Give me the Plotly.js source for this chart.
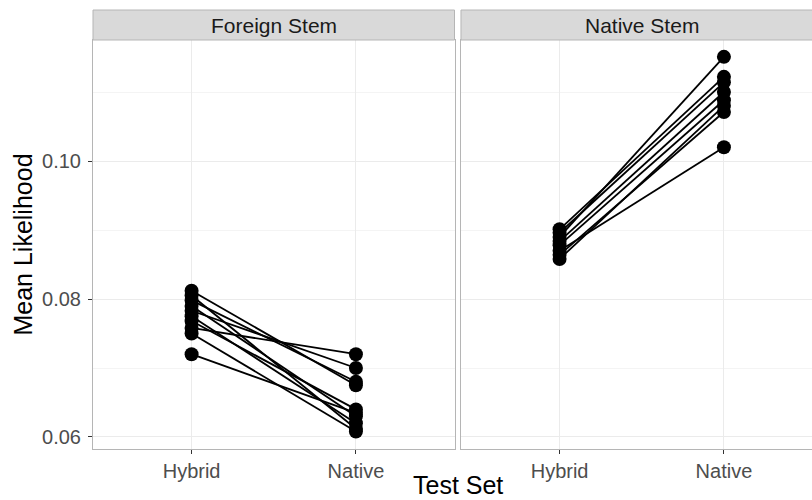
<!DOCTYPE html>
<html>
<head>
<meta charset="utf-8">
<script src="https://cdn.plot.ly/plotly-3.0.1.min.js"></script>
<style>html,body{margin:0;padding:0;background:#fff;}#chart{width:812px;height:500px;}</style>
</head>
<body>
<div id="chart"></div>
<script>
const testSets = ['Hybrid', 'Native'];
const panelTitles = ['Foreign Stem', 'Native Stem'];
const foreignHybrid = [0.0812, 0.0805, 0.0798, 0.0790, 0.0783, 0.0775, 0.0768, 0.0758, 0.0750, 0.0720];
const foreignNative = [0.0675, 0.0612, 0.0680, 0.0630, 0.0700, 0.0620, 0.0640, 0.0720, 0.0608, 0.0635];
const nativeHybrid = [0.0901, 0.0896, 0.0890, 0.0884, 0.0878, 0.0870, 0.0864, 0.0858];
const nativeNative = [0.1122, 0.1114, 0.1151, 0.1100, 0.1088, 0.1020, 0.1071, 0.1080];
const yTicks = [0.06, 0.08, 0.10];
const yTickText = ['0.06', '0.08', '0.10'];

const FONT = 'Liberation Sans, Arial, sans-serif';
const traces = [];
function addPanel(hy, na, xa, ya) {
  for (let i = 0; i < hy.length; i++) {
    traces.push({
      type: 'scatter', mode: 'lines+markers',
      x: testSets, y: [hy[i], na[i]],
      xaxis: xa, yaxis: ya,
      line: {color: '#000', width: 1.8},
      marker: {color: '#000', size: 14},
      showlegend: false, hoverinfo: 'skip'
    });
  }
}
addPanel(foreignHybrid, foreignNative, 'x', 'y');
addPanel(nativeHybrid, nativeNative, 'x2', 'y2');

const yRange = [0.05826, 0.11754];
const common = {
  gridcolor: '#ebebeb', gridwidth: 1, zeroline: false,
  showline: true, mirror: true, linecolor: '#b5b5b5', linewidth: 1,
  ticks: 'outside', ticklen: 4, tickcolor: '#333', tickwidth: 1,
  tickfont: {family: FONT, size: 20, color: '#4d4d4d'}
};
const xCommon = Object.assign({}, common, {type: 'category', categoryarray: testSets, categoryorder: 'array'});
const yCommon = Object.assign({}, common, {
  range: yRange, tickvals: yTicks, ticktext: yTickText, ticklabelstandoff: 3,
  minor: {dtick: 0.01, tick0: 0.05, showgrid: true, gridcolor: '#f4f4f4', ticks: ''}
});

const stripTop = 1.0733;
const layout = {
  width: 812, height: 500,
  margin: {l: 93, r: 0, t: 40, b: 51},
  paper_bgcolor: '#fff', plot_bgcolor: '#fff',
  showlegend: false,
  xaxis: Object.assign({}, xCommon, {domain: [0, 0.5028], range: [-0.6, 1.6], anchor: 'y'}),
  xaxis2: Object.assign({}, xCommon, {domain: [0.5118, 1], range: [-0.6, 1.536], anchor: 'y2'}),
  yaxis: Object.assign({}, yCommon, {anchor: 'x',
    title: {text: 'Mean Likelihood', font: {family: FONT, size: 25, color: '#000'}, standoff: 2}}),
  yaxis2: Object.assign({}, yCommon, {anchor: 'x2', matches: 'y', showticklabels: false, ticks: ''}),
  shapes: [
    {type: 'rect', xref: 'x domain', yref: 'paper', x0: 0, x1: 1, y0: 1, y1: stripTop,
     fillcolor: '#d9d9d9', line: {color: '#b5b5b5', width: 1}, layer: 'above'},
    {type: 'rect', xref: 'x2 domain', yref: 'paper', x0: 0, x1: 1.01, y0: 1, y1: stripTop,
     fillcolor: '#d9d9d9', line: {color: '#b5b5b5', width: 1}, layer: 'above'}
  ],
  annotations: [
    {text: panelTitles[0], xref: 'x domain', yref: 'paper', x: 0.5, y: (1 + stripTop) / 2,
     showarrow: false, xanchor: 'center', yanchor: 'middle', font: {family: FONT, size: 21, color: '#1a1a1a'}},
    {text: panelTitles[1], xref: 'x2 domain', yref: 'paper', x: 0.5 * 361.5 / 351, y: (1 + stripTop) / 2,
     showarrow: false, xanchor: 'center', yanchor: 'middle', font: {family: FONT, size: 21, color: '#1a1a1a'}},
    {text: 'Test Set', xref: 'paper', yref: 'paper', x: (458 - 93) / 719, y: -0.087,
     showarrow: false, xanchor: 'center', yanchor: 'middle', font: {family: FONT, size: 25, color: '#000'}}
  ]
};

Plotly.newPlot('chart', traces, layout, {displayModeBar: false, staticPlot: true});
</script>
</body>
</html>
